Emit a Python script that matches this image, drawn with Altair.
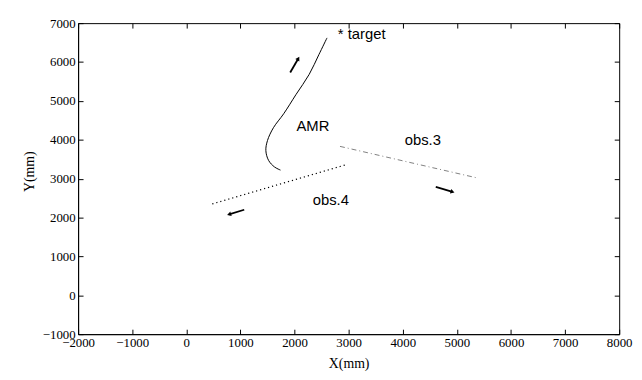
import math
import altair as alt
import pandas as pd

# ---- data ----
amr_x = [2600, 2450, 2270, 2030, 1800, 1610, 1500, 1470, 1520, 1630, 1740]
amr_y = [6620, 6190, 5680, 5170, 4670, 4310, 3980, 3720, 3470, 3300, 3220]

obs3_x = [2840, 5370]
obs3_y = [3830, 3020]

obs4_x = [480, 2980]
obs4_y = [2350, 3370]

arrow_names = ["AMR", "obs.3", "obs.4"]
arrow_x0 = [1920, 4610, 1070]
arrow_y0 = [5730, 2790, 2200]
arrow_x1 = [2070, 4920, 790]
arrow_y1 = [6090, 2660, 2080]

label_text = ["* target", "AMR", "obs.3", "obs.4"]
label_x = [2800, 2340, 4370, 2670]
label_y = [6720, 4340, 3980, 2460]
label_align = ["left", "center", "center", "center"]

x_domain = [-2000, 8000]
y_domain = [-1000, 7000]
x_ticks = list(range(-2000, 8001, 1000))
y_ticks = list(range(-1000, 7001, 1000))

W, H = 548, 315

amr = pd.DataFrame({"x": amr_x, "y": amr_y, "o": range(len(amr_x))})
obs3 = pd.DataFrame({"x": obs3_x, "y": obs3_y, "o": range(len(obs3_x))})
obs4 = pd.DataFrame({"x": obs4_x, "y": obs4_y, "o": range(len(obs4_x))})

sx = W / (x_domain[1] - x_domain[0])
sy = H / (y_domain[1] - y_domain[0])
arrow_rows = []
head_rows = []
for n, a, b, c, d in zip(arrow_names, arrow_x0, arrow_y0, arrow_x1, arrow_y1):
    arrow_rows.append({"name": n, "x": a, "y": b, "o": 0})
    arrow_rows.append({"name": n, "x": c, "y": d, "o": 1})
    ang = math.degrees(math.atan2((c - a) * sx, (d - b) * sy)) % 360
    head_rows.append({"name": n, "x": c, "y": d, "angle": ang})
arrows = pd.DataFrame(arrow_rows)
heads = pd.DataFrame(head_rows)
labels = pd.DataFrame({"t": label_text, "x": label_x, "y": label_y, "a": label_align})

xs = alt.Scale(domain=x_domain, nice=False, zero=False)
ys = alt.Scale(domain=y_domain, nice=False, zero=False)

serif = "Liberation Serif"
sans = "Liberation Sans"

main_x_axis = alt.Axis(values=x_ticks, title="X(mm)", ticks=False, grid=False,
                       format="d",
                       labelFont=serif, labelFontSize=13, labelColor="black",
                       labelPadding=2, labelFlush=False, labelOverlap=False,
                       titleFont=serif, titleFontSize=14, titleFontWeight="normal",
                       titleColor="black", titlePadding=8,
                       domainColor="black", orient="bottom")
main_y_axis = alt.Axis(values=y_ticks, title="Y(mm)", ticks=False, grid=False,
                       format="d",
                       labelFont=serif, labelFontSize=13, labelColor="black",
                       labelPadding=3, labelFlush=False, labelOverlap=False,
                       titleFont=serif, titleFontSize=14, titleFontWeight="normal",
                       titleColor="black", titlePadding=6, titleY=150,
                       domainColor="black", orient="left")


def tick_axis(orient, vals, off):
    # an axis placed on the opposite edge so that its ticks point inward
    return alt.Axis(values=vals, orient=orient, offset=off, tickSize=5,
                    tickColor="black", labels=False, domain=False, grid=False,
                    title=None)


amr_line = alt.Chart(amr).mark_line(color="black", strokeWidth=1,
                                    interpolate="catmull-rom").encode(
    x=alt.X("x:Q", scale=xs, axis=main_x_axis),
    y=alt.Y("y:Q", scale=ys, axis=main_y_axis),
    order="o:Q",
)

# ticks on left edge (pointing right) and bottom edge (pointing up)
ticks_lb = alt.Chart(amr).mark_point(opacity=0).encode(
    x=alt.X("x:Q", scale=xs, axis=tick_axis("top", x_ticks, -H)),
    y=alt.Y("y:Q", scale=ys, axis=tick_axis("right", y_ticks, -W)),
)
# ticks on right edge (pointing left) and top edge (pointing down)
ticks_rt = alt.Chart(amr).mark_point(opacity=0).encode(
    x=alt.X("x:Q", scale=xs, axis=tick_axis("bottom", x_ticks, -H)),
    y=alt.Y("y:Q", scale=ys, axis=tick_axis("left", y_ticks, -W)),
)

obs3_line = alt.Chart(obs3).mark_line(color="#808080", strokeWidth=1,
                                      strokeDash=[5, 3, 1, 3]).encode(
    x=alt.X("x:Q", scale=xs, axis=None),
    y=alt.Y("y:Q", scale=ys, axis=None),
    order="o:Q",
)
obs4_line = alt.Chart(obs4).mark_line(color="black", strokeWidth=1.2,
                                      strokeDash=[1.2, 3]).encode(
    x=alt.X("x:Q", scale=xs, axis=None),
    y=alt.Y("y:Q", scale=ys, axis=None),
    order="o:Q",
)

arrow_lines = alt.Chart(arrows).mark_line(color="black", strokeWidth=1.8).encode(
    x=alt.X("x:Q", scale=xs, axis=None),
    y=alt.Y("y:Q", scale=ys, axis=None),
    detail="name:N",
    order="o:Q",
)
arrow_heads = alt.Chart(heads).mark_point(shape="triangle-up", filled=True,
                                          color="black", size=22, opacity=1).encode(
    x=alt.X("x:Q", scale=xs, axis=None),
    y=alt.Y("y:Q", scale=ys, axis=None),
    angle=alt.Angle("angle:Q", scale=None),
)

text_left = alt.Chart(labels[labels["a"] == "left"]).mark_text(
    font=sans, fontSize=15, color="black", align="left", baseline="middle").encode(
    x=alt.X("x:Q", scale=xs, axis=None),
    y=alt.Y("y:Q", scale=ys, axis=None),
    text="t:N",
)
text_center = alt.Chart(labels[labels["a"] == "center"]).mark_text(
    font=sans, fontSize=15, color="black", align="center", baseline="middle").encode(
    x=alt.X("x:Q", scale=xs, axis=None),
    y=alt.Y("y:Q", scale=ys, axis=None),
    text="t:N",
)

chart = alt.layer(
    amr_line, ticks_lb, ticks_rt, obs3_line, obs4_line, arrow_lines, arrow_heads,
    text_left, text_center,
).resolve_axis(x="independent", y="independent").properties(
    width=W, height=H,
    autosize=alt.AutoSizeParams(type="none"),
    padding={"left": 71, "top": 13, "right": 15, "bottom": 36},
    background="white",
).configure_view(stroke="black", strokeWidth=1)

chart.save("out.html", embed_options={"renderer": "svg", "actions": False})
